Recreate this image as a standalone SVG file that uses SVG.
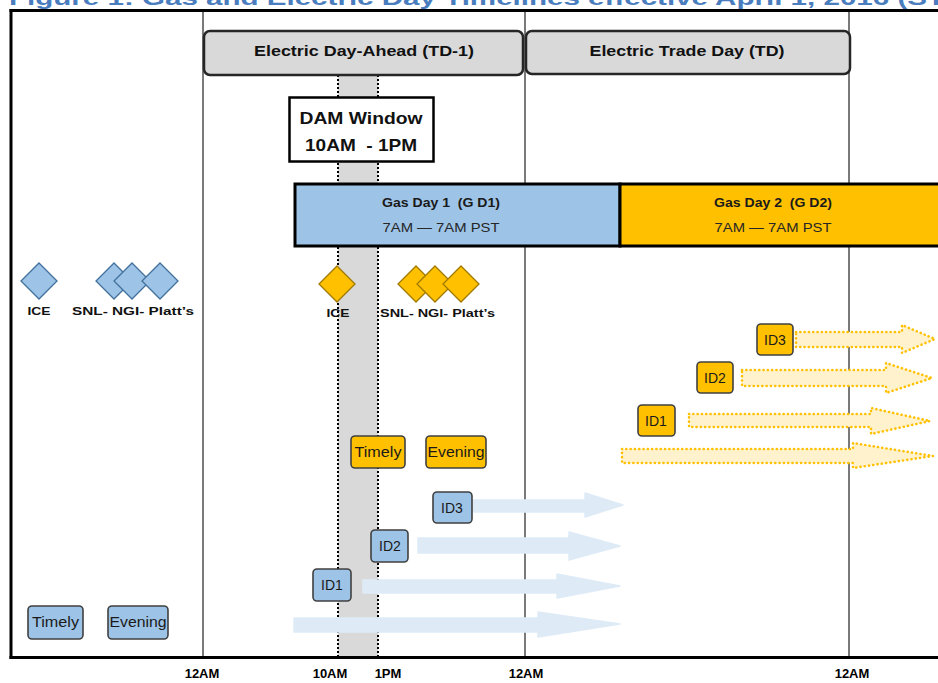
<svg xmlns="http://www.w3.org/2000/svg" width="938" height="683" viewBox="0 0 938 683">
<style>
text{font-family:"Liberation Sans",Arial,sans-serif;}
.title{font-size:21px;font-weight:bold;fill:#4a7dbd;}
.axis{font-size:13px;font-weight:bold;fill:#000;text-anchor:middle;}
.vline{stroke:#595959;stroke-width:1.6;fill:none;}
.hdrbox{fill:#d9d9d9;stroke:#262626;stroke-width:2.5;}
.hdr{font-size:15px;font-weight:bold;fill:#111;text-anchor:middle;}
.gtitle{font-size:12px;font-weight:bold;fill:#1a1a1a;text-anchor:middle;white-space:pre;}
.gsub{font-size:13px;fill:#262626;text-anchor:middle;}
.dbl{fill:#9dc3e6;stroke:#41719c;stroke-width:1.3;}
.dor{fill:#ffc000;stroke:#a07a00;stroke-width:1.3;}
.lbl{font-size:11.5px;font-weight:bold;fill:#111;white-space:pre;}
.bbox{fill:#9dc3e6;stroke:#404040;stroke-width:1.6;}
.obox{fill:#ffc000;stroke:#404040;stroke-width:1.6;}
.btxt{font-size:14px;fill:#1a1a1a;text-anchor:middle;}
.barr{fill:#deebf7;stroke:#deebf7;stroke-width:1.5;stroke-linejoin:round;}
.oarr{fill:#fff2cc;stroke:#ffc000;stroke-width:2.6;stroke-dasharray:0.1 4.2;stroke-linecap:round;stroke-linejoin:round;}
.dots{stroke:#000;stroke-width:2;stroke-dasharray:2 2;fill:none;}
</style>

<rect x="0" y="0" width="938" height="683" fill="#ffffff"/>

<!-- title (cut off at top, as in the reference) -->
<text class="title" x="9" y="4.5" textLength="936" lengthAdjust="spacingAndGlyphs">Figure 1: Gas and Electric Day Timelines effective April 1, 2016 (ST</text>

<!-- DAM band -->
<g id="dam-band">
<rect x="338" y="75" width="40" height="582" fill="#d9d9d9"/>
<line class="dots" x1="338" y1="75" x2="338" y2="657"/>
<line class="dots" x1="378" y1="75" x2="378" y2="657"/>
</g>

<!-- grid lines -->
<g id="grid">
<line class="vline" x1="203" y1="11" x2="203" y2="657"/>
<line class="vline" x1="525" y1="11" x2="525" y2="657"/>
<line class="vline" x1="849" y1="11" x2="849" y2="657"/>
</g>

<!-- frame -->
<g id="frame" stroke="#000" fill="none">
<line x1="9.5" y1="10.5" x2="938" y2="10.5" stroke-width="3"/>
<line x1="11" y1="9" x2="11" y2="659" stroke-width="3"/>
<line x1="9.5" y1="657.5" x2="938" y2="657.5" stroke-width="3"/>
</g>

<!-- axis labels -->
<g id="axis-labels">
<text class="axis" x="202" y="678">12AM</text>
<text class="axis" x="330" y="678">10AM</text>
<text class="axis" x="388" y="678">1PM</text>
<text class="axis" x="526" y="678">12AM</text>
<text class="axis" x="852" y="678">12AM</text>
</g>

<!-- electric day headers -->
<g id="electric-day-ahead">
<rect class="hdrbox" x="204" y="31" width="319" height="44" rx="6"/>
<text class="hdr" x="364" y="56" textLength="220" lengthAdjust="spacingAndGlyphs">Electric Day-Ahead (TD-1)</text>
</g>
<g id="electric-trade-day">
<rect class="hdrbox" x="526" y="31" width="324" height="43" rx="6"/>
<text class="hdr" x="687" y="56" textLength="195" lengthAdjust="spacingAndGlyphs">Electric Trade Day (TD)</text>
</g>

<!-- DAM Window -->
<g id="dam-window">
<rect x="289.5" y="97.5" width="144" height="64" fill="#fff" stroke="#000" stroke-width="2.5"/>
<text x="361" y="124" font-size="17" font-weight="bold" text-anchor="middle" fill="#111" textLength="123" lengthAdjust="spacingAndGlyphs">DAM Window</text>
<text x="361" y="151" font-size="17" font-weight="bold" text-anchor="middle" fill="#111" style="white-space:pre" textLength="112" lengthAdjust="spacingAndGlyphs">10AM  - 1PM</text>
</g>

<!-- gas days -->
<g id="gas-day-1">
<rect x="295" y="184" width="325" height="62" fill="#9dc3e6" stroke="#000" stroke-width="3"/>
<text class="gtitle" x="441" y="207" textLength="118" lengthAdjust="spacingAndGlyphs">Gas Day 1  (G D1)</text>
<text class="gsub" x="441" y="232" textLength="117" lengthAdjust="spacingAndGlyphs">7AM — 7AM PST</text>
</g>
<g id="gas-day-2">
<rect x="620" y="184" width="320" height="62" fill="#ffc000" stroke="#000" stroke-width="3"/>
<text class="gtitle" x="773" y="207" textLength="118" lengthAdjust="spacingAndGlyphs">Gas Day 2  (G D2)</text>
<text class="gsub" x="773" y="232" textLength="117" lengthAdjust="spacingAndGlyphs">7AM — 7AM PST</text>
</g>

<!-- blue diamonds (prior day) -->
<g id="blue-ice">
<polygon class="dbl" points="39,263 57,281 39,299 21,281"/>
<text class="lbl" x="39" y="315" text-anchor="middle" textLength="23" lengthAdjust="spacingAndGlyphs">ICE</text>
</g>
<g id="blue-indices">
<polygon class="dbl" points="114,263 132,281 114,299 96,281"/>
<polygon class="dbl" points="132,263 150,281 132,299 114,281"/>
<polygon class="dbl" points="160,263 178,281 160,299 142,281"/>
<text class="lbl" x="72" y="315" textLength="122" lengthAdjust="spacingAndGlyphs">SNL- NGI- Platt’s</text>
</g>

<!-- orange diamonds -->
<g id="orange-ice">
<polygon class="dor" points="337,266 355,284 337,302 319,284"/>
<text class="lbl" x="338" y="317" text-anchor="middle" textLength="23" lengthAdjust="spacingAndGlyphs">ICE</text>
</g>
<g id="orange-indices">
<polygon class="dor" points="416,266 434,284 416,302 398,284"/>
<polygon class="dor" points="435,266 453,284 435,302 417,284"/>
<polygon class="dor" points="461,266 479,284 461,302 443,284"/>
<text class="lbl" x="380" y="317" textLength="115" lengthAdjust="spacingAndGlyphs">SNL- NGI- Platt’s</text>
</g>

<!-- arrows -->
<g id="connectors">
<polygon class="oarr" points="796,332 902,332 902,325 935,339 902,353 902,347 796,347"/>
<polygon class="oarr" points="742,370 886,370 886,363 932,378 886,393 886,386 742,386"/>
<polygon class="oarr" points="689,414 871,414 871,408 930,421 871,434 871,427 689,427"/>
<polygon class="oarr" points="622,449 853,449 853,443 933,456 853,468 853,463 622,463"/>
<polygon class="barr" points="473,500 585,500 585,493 623,505 585,517 585,512 473,512"/>
<polygon class="barr" points="418,538 569,538 569,532 620,546 569,560 569,553 418,553"/>
<polygon class="barr" points="363,580 557,580 557,574 620,586 557,598 557,593 363,593"/>
<polygon class="barr" points="294,618 538,618 538,612 620,624 538,637 538,632 294,632"/>
</g>

<!-- orange boxes -->
<g id="orange-id3">
<rect class="obox" x="757" y="324" width="36" height="31" rx="4"/>
<text class="btxt" x="775" y="344.5">ID3</text>
</g>
<g id="orange-id2">
<rect class="obox" x="697" y="362" width="36" height="31" rx="4"/>
<text class="btxt" x="715" y="382.5">ID2</text>
</g>
<g id="orange-id1">
<rect class="obox" x="638" y="405" width="37" height="31" rx="4"/>
<text class="btxt" x="656" y="425.5">ID1</text>
</g>
<g id="orange-timely">
<rect class="obox" x="351" y="436" width="54" height="32" rx="4"/>
<text class="btxt" x="378" y="456.5" textLength="47" lengthAdjust="spacingAndGlyphs">Timely</text>
</g>
<g id="orange-evening">
<rect class="obox" x="426" y="436" width="60" height="32" rx="4"/>
<text class="btxt" x="456" y="456.5" textLength="57" lengthAdjust="spacingAndGlyphs">Evening</text>
</g>

<!-- blue boxes -->
<g id="blue-id3">
<rect class="bbox" x="433" y="492" width="39" height="31" rx="4"/>
<text class="btxt" x="452" y="512.5">ID3</text>
</g>
<g id="blue-id2">
<rect class="bbox" x="371" y="530" width="37" height="32" rx="4"/>
<text class="btxt" x="390" y="551">ID2</text>
</g>
<g id="blue-id1">
<rect class="bbox" x="313" y="569" width="38" height="32" rx="4"/>
<text class="btxt" x="332" y="590">ID1</text>
</g>
<g id="blue-timely">
<rect class="bbox" x="28" y="606" width="55" height="33" rx="4"/>
<text class="btxt" x="55.5" y="627" textLength="47" lengthAdjust="spacingAndGlyphs">Timely</text>
</g>
<g id="blue-evening">
<rect class="bbox" x="108" y="606" width="60" height="33" rx="4"/>
<text class="btxt" x="138" y="627" textLength="57" lengthAdjust="spacingAndGlyphs">Evening</text>
</g>
</svg>
